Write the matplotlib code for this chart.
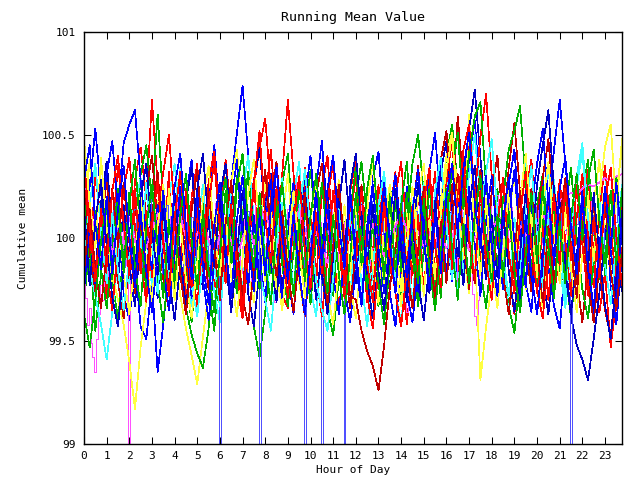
import numpy as np
import matplotlib
matplotlib.use("Agg")
import matplotlib.pyplot as plt

# time grids (hours): most series every 15 min, two series every 5 min
hours = np.arange(0, 24, 0.25)
hours_5min = np.arange(0, 24, 1 / 12)

s01_red = [100.22, 99.85, 100.31, 100.08, 99.71, 100.02, 100.35, 100.11, 99.83, 100.28, 100.44, 100.19,
           100.67, 100.26, 99.90, 100.32, 99.81, 100.13, 99.69, 100.20, 100.36, 99.88, 100.25, 99.74,
           100.04, 100.38, 100.12, 99.77, 99.61, 100.01, 100.29, 99.84, 100.18, 100.43, 100.07, 99.72,
           99.66, 100.16, 99.85, 100.34, 100.09, 99.78, 100.24, 100.40, 99.97, 99.64, 99.92, 100.23,
           100.37, 100.05, 99.69, 99.93, 100.26, 99.80, 100.12, 100.32, 99.86, 99.58, 99.87, 100.21,
           99.98, 100.29, 99.77, 100.06, 100.35, 100.10, 99.83, 100.24, 100.48, 100.21, 99.89, 100.16,
           99.75, 100.07, 100.27, 99.84, 99.63, 99.91, 100.22, 100.38, 100.04, 99.81, 100.18, 99.73,
           99.92, 100.25, 99.96, 99.71, 100.14, 100.33, 99.90, 99.64, 99.83, 99.47, 99.70, 99.95]
s02_green = [99.68, 99.98, 99.55, 99.82, 100.14, 99.79, 99.61, 99.95, 100.22, 99.88, 100.31, 100.45,
             100.18, 100.60, 100.17, 99.93, 99.73, 100.19, 99.82, 99.59, 99.90, 100.17, 99.76, 99.55,
             99.89, 100.23, 99.94, 100.30, 100.05, 99.73, 99.57, 99.42, 99.64, 99.93, 100.12, 100.27,
             100.41, 100.03, 99.82, 100.10, 100.33, 100.06, 99.81, 99.65, 99.53, 99.80, 100.08, 99.86,
             100.20, 100.37, 100.09, 99.87, 99.67, 99.94, 100.26, 100.04, 99.72, 100.08, 100.36, 100.50,
             100.22, 99.97, 99.75, 100.17, 100.40, 100.55, 100.25, 99.99, 99.78, 100.16, 99.85, 99.66,
             99.93, 100.24, 99.87, 99.67, 99.54, 99.81, 100.11, 99.84, 100.16, 100.31, 99.98, 99.73,
             100.10, 99.83, 99.61, 99.89, 100.22, 100.38, 100.04, 99.80, 100.23, 99.97, 99.70, 100.05]
s03_blue = [99.90, 100.25, 100.53, 100.21, 100.32, 99.85, 100.10, 99.73, 99.60, 99.88, 99.57, 99.51,
            99.79, 99.35, 99.58, 99.86, 100.17, 99.82, 100.20, 100.38, 100.02, 99.78, 100.21, 100.45,
            100.13, 99.87, 100.27, 100.51, 100.74, 100.40, 100.09, 99.91, 99.69, 100.06, 100.34, 100.04,
            99.82, 99.63, 99.95, 100.23, 99.88, 100.25, 100.47, 100.10, 99.81, 100.16, 99.75, 99.59,
            99.85, 100.18, 99.83, 100.29, 100.42, 100.05, 99.73, 99.57, 99.89, 100.25, 99.97, 99.71,
            100.09, 100.33, 100.51, 100.13, 99.82, 100.17, 99.76, 100.04, 100.39, 100.57, 100.21, 99.95,
            99.74, 100.12, 99.84, 100.26, 100.43, 100.06, 99.78, 99.64, 100.00, 100.28, 99.86, 99.67,
            99.56, 99.88, 100.14, 99.80, 100.24, 99.92, 99.63, 99.95, 100.20, 99.77, 99.58, 99.92]
s04_magenta = [99.80, 99.71, 99.58, 99.66, 99.49, 99.42, 99.35, 99.51, 99.63, 99.77, 99.70, 99.86,
               99.92, 99.81, 99.74, 99.88, 100.01, 99.93, 99.84, 99.97, 100.08, 99.95, 99.87, 99.96,
               98.00, 99.90, 100.02, 100.14, 100.05, 99.93, 100.09, 99.98, 100.11, 100.20, 100.07, 99.96,
               100.04, 99.91, 99.83, 99.97, 100.10, 100.02, 99.88, 99.79, 99.93, 100.06, 100.15, 100.03,
               99.94, 100.08, 100.21, 100.12, 100.00, 99.89, 99.98, 100.11, 100.04, 99.92, 99.81, 99.95,
               100.07, 100.19, 100.09, 99.97, 99.86, 99.74, 99.88, 100.01, 99.93, 100.06, 100.17, 100.05,
               99.95, 100.08, 99.99, 99.87, 100.00, 100.13, 100.24, 100.11, 99.98, 100.07, 99.94, 99.83,
               99.96, 100.10, 100.02, 99.90, 99.79, 99.92, 100.04, 100.16, 100.07, 99.95, 100.09, 100.18,
               100.06, 99.94, 100.05, 99.92, 99.81, 99.69, 99.84, 99.97, 100.09, 99.99, 99.88, 100.01,
               100.14, 100.03, 99.91, 100.02, 100.15, 100.27, 100.14, 100.02, 99.90, 100.01, 99.89, 99.78,
               99.92, 100.05, 99.96, 100.08, 100.19, 100.08, 99.95, 99.84, 99.97, 100.09, 99.98, 100.10,
               100.22, 100.10, 99.99, 99.86, 99.97, 100.08, 99.96, 99.85, 99.73, 99.88, 100.00, 100.12,
               100.03, 99.91, 100.04, 100.16, 100.07, 99.95, 100.06, 99.93, 99.82, 99.95, 100.08, 99.97,
               99.86, 99.99, 100.11, 100.23, 100.12, 100.00, 99.89, 100.02, 99.91, 99.80, 99.94, 100.06,
               99.95, 99.84, 99.72, 99.64, 99.77, 99.90, 100.02, 99.93, 100.05, 100.16, 100.04, 99.93,
               100.05, 99.94, 99.83, 99.97, 100.09, 100.20, 100.08, 99.96, 100.07, 99.95, 99.84, 99.98,
               100.10, 100.01, 99.89, 100.02, 99.90, 99.78, 99.91, 100.04, 100.15, 100.05, 99.93, 100.06,
               99.96, 99.84, 99.73, 99.62, 99.58, 99.70, 99.83, 99.96, 100.08, 99.97, 100.09, 100.19,
               100.08, 99.97, 100.10, 100.21, 100.10, 99.99, 99.88, 100.01, 99.92, 100.04, 100.15, 100.05,
               99.94, 100.06, 99.96, 99.85, 99.98, 100.10, 100.21, 100.11, 100.00, 100.09, 99.98, 100.07,
               100.16, 100.07, 99.97, 100.06, 100.14, 100.05, 99.96, 100.04, 100.12, 100.03, 99.95, 100.04,
               100.12, 100.03, 99.94, 100.02, 100.10, 100.01, 99.93, 100.01, 100.09, 100.00, 99.92, 100.02,
               100.11, 100.19, 100.10, 100.01, 100.09, 100.18, 100.08, 99.99, 100.07, 100.16, 100.07, 99.98,
               100.06, 100.14, 100.05, 99.97, 100.04, 100.12, 100.03, 99.95, 100.02, 100.10, 100.01, 99.93]
s05_cyan = [100.13, 99.85, 99.72, 99.58, 99.41, 99.64, 99.90, 100.12, 99.78, 100.16, 100.29, 99.99,
            99.77, 100.13, 99.82, 100.20, 100.36, 100.08, 99.80, 99.67, 100.05, 100.26, 99.92, 99.74,
            99.59, 99.98, 100.19, 99.86, 100.22, 100.40, 100.09, 99.83, 99.70, 99.55, 99.86, 100.17,
            99.84, 100.21, 100.37, 99.95, 99.75, 99.62, 99.96, 100.18, 99.83, 100.25, 99.96, 99.71,
            100.08, 99.78, 99.57, 99.85, 100.16, 100.32, 100.02, 99.77, 100.20, 99.92, 99.68, 100.05,
            100.27, 99.94, 99.69, 100.07, 100.28, 100.00, 99.73, 100.09, 100.31, 100.50, 100.18, 99.96,
            99.76, 100.13, 99.85, 99.64, 99.89, 100.21, 100.36, 100.04, 99.78, 100.12, 100.34, 100.05,
            99.86, 99.66, 99.98, 100.25, 100.42, 100.07, 99.82, 100.14, 100.35, 99.96, 99.78, 100.16]
s06_yellow = [100.07, 100.38, 100.10, 99.86, 100.20, 99.82, 99.70, 99.58, 99.40, 99.17, 99.47, 99.69,
              99.98, 100.18, 99.85, 100.24, 99.93, 99.72, 99.56, 99.43, 99.29, 99.52, 99.74, 100.02,
              100.22, 99.89, 100.27, 100.43, 100.10, 99.82, 99.69, 100.06, 100.29, 99.96, 99.75, 100.09,
              100.31, 99.98, 99.78, 99.63, 99.90, 100.22, 99.95, 99.71, 100.08, 100.28, 99.95, 99.76,
              99.61, 99.94, 100.20, 99.87, 99.68, 100.06, 100.26, 99.99, 99.74, 100.12, 99.83, 100.21,
              100.36, 99.99, 99.80, 100.18, 100.40, 100.51, 100.23, 100.00, 100.60, 99.95, 99.31, 99.57,
              99.79, 100.12, 99.78, 100.11, 100.31, 99.98, 99.75, 100.13, 99.86, 99.66, 99.99, 100.25,
              100.07, 99.77, 100.10, 100.30, 100.02, 99.79, 100.17, 100.38, 100.05, 99.85, 100.23, 100.43]
s07_darkblue = [99.78, 100.11, 99.83, 100.17, 100.37, 100.04, 99.79, 100.16, 99.87, 99.67, 99.99, 100.26,
                99.97, 99.71, 100.09, 99.81, 99.60, 99.88, 100.18, 100.34, 100.01, 99.75, 100.12, 99.85,
                100.20, 100.36, 100.03, 99.77, 100.10, 99.73, 99.57, 99.85, 100.16, 100.31, 99.99, 99.74,
                100.08, 99.72, 100.10, 100.30, 99.97, 99.70, 99.94, 100.24, 99.86, 100.16, 100.38, 100.04,
                99.78, 100.12, 99.80, 99.61, 99.89, 100.19, 99.85, 100.23, 99.96, 99.69, 100.00, 100.27,
                99.99, 99.73, 100.11, 100.32, 100.47, 100.13, 99.91, 100.30, 100.53, 100.72, 100.39, 100.10,
                99.93, 99.72, 100.07, 100.27, 99.95, 99.70, 100.06, 99.79, 100.11, 99.82, 99.63, 99.90,
                100.20, 99.89, 99.62, 99.48, 99.41, 99.31, 99.51, 99.73, 100.01, 100.22, 99.93, 99.74]
s08_darkred = [100.25, 99.93, 99.74, 100.06, 100.27, 99.99, 99.79, 99.61, 99.88, 100.19, 99.86, 100.23,
               100.40, 100.07, 99.80, 99.65, 99.92, 100.21, 99.84, 100.13, 100.33, 100.00, 99.75, 100.09,
               99.77, 100.07, 100.28, 99.96, 99.71, 99.58, 99.86, 100.17, 99.84, 100.20, 100.37, 100.03,
               99.81, 100.11, 99.82, 99.62, 99.90, 100.21, 100.36, 100.02, 99.78, 100.14, 99.86, 99.66,
               99.95, 100.26, 99.97, 99.72, 100.09, 99.79, 100.10, 100.31, 100.01, 99.75, 100.13, 100.35,
               100.02, 99.77, 100.15, 100.38, 100.52, 100.17, 100.59, 100.26, 99.98, 99.78, 100.16, 99.86,
               100.23, 100.40, 100.05, 100.34, 100.56, 100.22, 99.95, 99.74, 100.12, 100.29, 100.48, 100.14,
               99.96, 99.71, 100.08, 99.80, 99.59, 99.87, 100.18, 99.85, 99.65, 99.52, 99.80, 100.07]
s09_lightblue = [99.92, 100.01, 100.09, 99.98, 99.89, 100.00, 100.12, 100.04, 99.95, 100.06, 100.15, 100.05,
                 99.96, 99.87, 99.97, 100.08, 100.17, 100.07, 99.98, 100.06, 99.94, 99.86, 99.97, 100.09,
                 100.01, 99.92, 100.03, 100.14, 100.05, 99.96, 99.85, 99.95, 100.07, 99.98, 100.10, 100.19,
                 100.09, 99.99, 99.90, 100.01, 99.92, 99.83, 99.95, 100.06, 100.16, 100.07, 99.97, 100.05,
                 99.95, 100.04, 100.13, 100.03, 99.93, 99.84, 99.96, 100.08, 99.99, 100.10, 100.01, 99.91,
                 100.02, 100.12, 100.03, 99.94, 100.05, 99.96, 99.87, 99.98, 100.09, 100.00, 99.90, 100.01,
                 98.00, 100.03, 99.94, 100.05, 100.15, 100.06, 99.97, 100.08, 99.98, 99.88, 99.99, 100.10,
                 100.01, 99.92, 100.02, 100.13, 100.04, 99.95, 100.06, 99.96, 100.07, 98.00, 99.98, 100.09,
                 100.18, 100.08, 99.99, 100.09, 99.99, 99.90, 100.01, 100.11, 100.02, 99.93, 100.04, 99.95,
                 99.86, 99.97, 100.07, 99.98, 100.08, 100.17, 100.07, 99.98, 100.08, 98.00, 100.06, 99.96,
                 100.07, 99.97, 100.08, 99.99, 100.09, 100.00, 98.00, 100.02, 99.93, 100.04, 100.14, 100.05,
                 99.95, 100.06, 99.97, 100.08, 99.99, 99.90, 98.00, 100.01, 100.11, 100.02, 99.92, 100.03,
                 100.13, 100.04, 99.94, 100.05, 99.96, 99.87, 99.98, 100.08, 100.18, 100.09, 99.99, 100.10,
                 100.00, 99.91, 100.02, 100.12, 100.03, 99.93, 100.04, 99.95, 99.85, 99.96, 100.07, 99.98,
                 100.09, 100.19, 100.09, 100.00, 99.90, 100.01, 99.92, 100.03, 100.13, 100.04, 99.95, 100.06,
                 99.97, 100.07, 100.16, 100.06, 99.97, 100.07, 99.98, 99.89, 100.00, 100.10, 100.01, 100.11,
                 100.02, 99.93, 100.03, 100.13, 100.04, 100.14, 100.05, 99.96, 100.06, 99.97, 100.07, 100.17,
                 100.08, 99.98, 100.08, 100.18, 100.09, 100.00, 100.10, 100.01, 99.92, 100.02, 100.12, 100.03,
                 99.94, 100.04, 100.14, 100.05, 99.96, 100.06, 99.97, 100.07, 100.17, 100.08, 99.99, 100.09,
                 100.00, 99.91, 100.01, 100.11, 100.02, 99.93, 100.03, 100.13, 100.04, 99.95, 100.05, 100.15,
                 100.06, 99.97, 100.07, 99.98, 100.08, 100.18, 100.09, 100.00, 100.10, 100.01, 99.92, 100.02,
                 100.12, 100.03, 99.94, 100.04, 100.14, 100.05, 98.00, 100.06, 99.97, 100.07, 100.17, 100.08,
                 99.99, 100.09, 100.00, 99.91, 100.01, 100.11, 100.02, 99.93, 100.03, 100.13, 100.04, 99.95,
                 100.05, 100.15, 100.06, 99.97, 100.07, 99.98, 100.08, 100.18, 100.09, 100.00, 100.10, 100.01]
s10_red = [100.34, 100.00, 99.79, 100.12, 99.84, 99.65, 99.97, 100.23, 100.39, 100.05, 99.83, 100.13,
           99.81, 100.11, 100.32, 100.50, 100.13, 99.89, 100.24, 99.86, 99.67, 100.00, 100.27, 100.42,
           100.08, 99.80, 100.15, 99.82, 99.63, 99.91, 100.25, 100.44, 100.58, 100.23, 99.96, 100.31,
           100.67, 100.31, 100.02, 99.79, 100.14, 99.81, 99.62, 99.90, 100.23, 99.96, 99.71, 100.09,
           100.30, 99.98, 99.72, 99.56, 99.85, 100.17, 99.83, 100.21, 100.37, 100.03, 99.82, 100.11,
           99.74, 100.10, 100.32, 100.01, 100.29, 100.47, 100.10, 100.43, 100.55, 100.21, 100.49, 100.70,
           100.30, 100.02, 99.79, 100.14, 99.80, 100.12, 100.33, 99.99, 99.73, 100.07, 99.70, 100.06,
           100.28, 99.98, 99.72, 100.10, 100.31, 100.01, 99.76, 100.13, 100.35, 100.04, 99.79, 100.22]
s11_green = [100.20, 99.83, 100.13, 99.85, 99.66, 99.94, 100.24, 99.87, 100.17, 100.38, 100.01, 99.75,
             100.10, 99.78, 99.59, 99.87, 100.19, 99.89, 99.66, 99.53, 99.44, 99.37, 99.56, 99.90,
             100.13, 100.29, 99.97, 99.73, 100.11, 100.32, 100.00, 99.75, 100.12, 99.83, 100.21, 99.87,
             99.67, 99.94, 100.25, 99.93, 99.68, 100.00, 100.27, 99.98, 99.72, 100.10, 99.81, 100.13,
             100.34, 100.01, 99.75, 100.09, 99.78, 99.58, 99.87, 100.18, 99.84, 100.22, 99.92, 99.67,
             99.94, 100.24, 99.96, 99.71, 100.10, 100.33, 100.51, 100.14, 100.41, 100.59, 100.66, 100.25,
             100.07, 99.86, 100.19, 100.43, 100.52, 100.64, 100.27, 100.00, 99.78, 100.13, 99.85, 100.15,
             99.84, 100.14, 100.34, 100.00, 99.75, 99.61, 99.88, 100.17, 99.82, 100.11, 100.30, 99.99]
s12_blue = [99.74, 100.07, 99.78, 100.10, 100.31, 100.47, 100.14, 100.46, 100.55, 100.62, 100.28, 100.00,
            99.85, 100.16, 99.86, 99.65, 99.92, 100.25, 99.97, 99.71, 100.09, 99.80, 99.60, 99.88,
            100.19, 99.84, 100.17, 100.38, 100.02, 99.76, 100.11, 99.79, 100.08, 100.28, 99.94, 99.70,
            100.07, 100.27, 99.88, 100.19, 100.40, 100.06, 99.80, 100.15, 99.82, 99.63, 99.91, 100.23,
            99.94, 99.68, 100.06, 100.26, 99.97, 99.73, 100.10, 100.31, 99.99, 99.74, 99.59, 99.86,
            100.12, 99.83, 100.16, 100.37, 100.03, 99.79, 100.17, 99.87, 100.25, 99.97, 99.72, 100.10,
            100.30, 99.99, 99.75, 100.12, 100.33, 100.00, 99.76, 100.14, 100.36, 100.53, 100.17, 100.43,
            100.67, 100.36, 100.06, 99.83, 100.18, 99.85, 99.67, 99.95, 100.25, 99.94, 99.70, 100.08]
s13_magenta = [100.30, 100.15, 100.02, 99.90, 100.05, 99.92, 100.08, 99.97, 100.10, 99.98, 100.06, 99.95,
               100.04, 100.12, 100.01, 99.92, 100.03, 100.11, 100.00, 99.93, 100.02, 100.09, 99.99, 99.91,
               100.01, 100.08, 99.98, 99.90, 100.00, 100.07, 99.97, 100.05, 100.13, 100.03, 99.95, 100.04,
               99.96, 100.06, 100.14, 100.04, 99.96, 100.03, 99.95, 99.88, 99.97, 100.05, 99.98, 100.07,
               100.15, 100.06, 99.99, 100.07, 99.98, 99.91, 99.99, 100.06, 100.12, 100.04, 99.97, 100.03,
               99.96, 100.02, 100.09, 100.02, 99.95, 100.01, 100.07, 100.00, 99.94, 100.00, 100.05, 99.99,
               100.04, 100.09, 100.03, 99.98, 100.02, 100.06, 100.01, 100.03, 100.07, 100.10, 100.13, 100.15,
               100.18, 100.20, 100.22, 100.21, 100.24, 100.26, 100.25, 100.27, 100.29, 100.28, 100.30, 100.31]
s14_cyan = [99.92, 100.16, 100.36, 100.03, 99.78, 100.12, 99.84, 99.65, 99.91, 100.22, 99.95, 100.27,
            99.98, 99.73, 100.10, 99.81, 100.13, 100.34, 100.01, 99.77, 99.62, 99.89, 100.20, 99.86,
            99.67, 99.95, 100.26, 99.98, 99.74, 100.11, 99.83, 100.21, 99.93, 99.69, 99.97, 100.29,
            100.00, 99.75, 100.12, 100.33, 100.04, 99.79, 99.65, 99.55, 99.81, 100.14, 99.81, 100.13,
            99.85, 100.22, 99.93, 99.70, 100.08, 100.28, 99.96, 99.73, 99.59, 99.87, 100.18, 99.84,
            100.20, 99.86, 100.23, 100.39, 100.06, 99.80, 100.14, 99.83, 100.11, 99.80, 100.12, 100.32,
            100.48, 100.12, 99.91, 99.72, 100.10, 99.82, 100.14, 100.35, 100.01, 99.76, 100.09, 100.28,
            99.97, 99.71, 100.08, 100.30, 100.46, 100.10, 99.89, 100.19, 99.87, 99.68, 99.95, 100.26]
s15_yellow = [100.48, 100.17, 99.95, 100.39, 100.05, 99.79, 100.13, 99.82, 99.63, 99.90, 100.21, 99.88,
              99.69, 100.06, 100.26, 99.94, 99.70, 100.08, 99.80, 99.61, 99.88, 100.19, 100.35, 100.02,
              99.82, 100.11, 99.81, 99.62, 99.90, 100.22, 100.38, 100.05, 99.79, 100.13, 99.83, 99.65,
              99.92, 100.23, 99.95, 99.71, 100.09, 100.29, 99.97, 99.73, 99.58, 99.85, 100.16, 99.82,
              100.19, 99.85, 100.17, 100.37, 100.03, 99.78, 100.15, 99.86, 99.67, 99.95, 100.25, 99.96,
              99.72, 100.09, 99.80, 100.12, 100.33, 100.50, 100.14, 99.93, 99.73, 100.11, 99.82, 100.19,
              99.85, 99.66, 99.93, 100.23, 99.87, 100.19, 100.41, 100.07, 99.81, 100.16, 100.37, 100.03,
              99.78, 100.15, 99.85, 99.64, 99.92, 100.22, 99.89, 100.21, 100.44, 100.55, 100.15, 100.48]
s16_darkblue = [100.15, 99.77, 100.08, 100.28, 99.96, 99.71, 99.57, 99.85, 100.17, 99.83, 100.20, 100.36,
                100.03, 99.82, 100.14, 99.85, 100.22, 99.92, 99.66, 99.93, 100.24, 100.41, 100.07, 99.86,
                100.21, 99.89, 99.64, 99.92, 100.23, 99.95, 100.27, 100.44, 100.10, 99.88, 99.69, 100.07,
                99.78, 100.10, 100.30, 99.99, 99.74, 100.12, 99.83, 99.63, 99.91, 100.22, 99.93, 100.25,
                100.41, 100.08, 99.87, 100.16, 99.84, 99.65, 99.93, 100.24, 99.95, 99.71, 100.08, 99.79,
                99.60, 99.88, 100.18, 99.89, 100.20, 100.36, 100.02, 99.77, 100.14, 100.35, 100.00, 99.80,
                100.11, 99.81, 100.13, 99.84, 99.64, 99.92, 100.23, 99.94, 100.26, 100.45, 100.62, 100.23,
                100.04, 99.83, 99.63, 99.91, 100.21, 99.85, 100.22, 99.92, 99.67, 99.51, 99.81, 100.13]
s17_darkred = [99.83, 100.14, 99.85, 99.66, 99.93, 100.24, 99.96, 100.27, 99.98, 99.73, 100.10, 99.81,
               100.11, 100.32, 99.99, 99.74, 100.11, 99.82, 99.63, 99.90, 100.20, 99.86, 100.23, 99.95,
               99.70, 100.07, 100.28, 99.96, 99.72, 100.09, 99.80, 100.12, 100.33, 100.00, 99.81, 100.13,
               99.84, 99.64, 99.92, 100.22, 99.86, 100.21, 99.92, 99.68, 99.96, 100.26, 99.97, 99.72,
               99.70, 99.55, 99.45, 99.38, 99.26, 99.48, 99.76, 99.95, 100.14, 99.85, 99.66, 99.94,
               100.25, 99.95, 99.70, 100.08, 99.78, 100.10, 100.31, 100.00, 99.75, 100.12, 100.33, 99.99,
               99.79, 100.11, 99.82, 99.63, 99.91, 100.23, 99.87, 100.24, 99.94, 99.69, 100.06, 99.77,
               100.09, 100.29, 99.96, 99.71, 100.08, 99.79, 99.59, 99.87, 100.18, 99.84, 99.65, 99.93]
s18_red = [100.38, 100.06, 99.79, 100.14, 99.86, 100.23, 100.40, 100.07, 99.82, 100.24, 99.89, 99.69,
           100.06, 100.28, 99.97, 99.72, 100.10, 100.32, 100.01, 99.76, 100.13, 99.84, 100.16, 100.37,
           100.04, 99.78, 100.16, 99.87, 99.67, 100.00, 100.26, 100.52, 100.09, 99.88, 100.25, 99.96,
           99.71, 100.09, 100.30, 99.95, 99.75, 100.12, 99.83, 100.20, 100.36, 99.98, 99.78, 100.20,
           99.86, 100.23, 99.88, 99.69, 100.07, 100.27, 99.92, 99.73, 99.57, 99.85, 100.16, 99.82,
           100.18, 100.34, 99.96, 99.76, 100.19, 99.85, 100.22, 100.39, 100.00, 99.80, 100.23, 99.89,
           99.70, 100.08, 100.29, 99.93, 99.73, 100.11, 100.32, 99.95, 99.75, 99.61, 99.89, 100.21,
           99.87, 100.24, 99.89, 100.26, 99.97, 99.72, 100.10, 99.81, 100.18, 100.34, 100.01, 99.77]
s19_green = [99.63, 99.47, 99.70, 99.98, 100.19, 99.80, 100.17, 99.83, 100.20, 99.86, 99.67, 100.05,
             100.26, 99.96, 99.71, 100.09, 99.79, 100.11, 100.31, 99.99, 99.75, 100.13, 99.84, 99.64,
             99.92, 100.23, 99.88, 100.25, 100.41, 100.07, 99.86, 100.22, 99.87, 99.68, 100.06, 100.27,
             99.97, 99.72, 100.09, 99.79, 100.11, 100.31, 99.98, 99.73, 100.11, 99.82, 99.63, 99.91,
             100.22, 99.87, 100.24, 100.40, 100.06, 99.80, 100.20, 99.84, 100.16, 100.37, 99.98, 99.78,
             100.19, 99.85, 99.65, 99.93, 100.24, 99.95, 99.70, 100.07, 99.78, 100.10, 100.30, 99.98,
             99.79, 100.11, 99.81, 100.13, 99.84, 99.64, 99.92, 100.22, 99.88, 100.25, 99.96, 99.71,
             100.08, 99.78, 100.10, 100.31, 99.99, 100.28, 100.43, 100.09, 99.88, 100.23, 99.87, 100.24]
s20_blue = [100.28, 100.45, 100.07, 99.85, 100.20, 99.83, 100.14, 100.35, 100.01, 99.76, 100.13, 99.84,
            99.64, 99.92, 100.23, 99.88, 100.25, 100.41, 100.06, 99.80, 100.22, 99.87, 99.68, 100.06,
            100.27, 99.96, 99.71, 100.09, 100.30, 99.99, 99.74, 100.11, 99.82, 100.14, 100.35, 100.01,
            99.80, 100.12, 99.83, 99.63, 99.91, 100.22, 99.87, 100.24, 100.40, 100.06, 99.85, 100.22,
            99.87, 99.67, 100.00, 100.26, 99.96, 100.27, 99.98, 99.73, 100.10, 99.81, 100.13, 100.33,
            100.00, 99.75, 100.12, 99.83, 100.20, 100.36, 100.03, 100.34, 100.51, 100.17, 99.95, 100.30,
            99.97, 99.72, 100.09, 100.29, 99.98, 99.73, 100.11, 99.82, 99.63, 99.91, 100.22, 99.87,
            100.24, 100.39, 100.05, 99.84, 100.21, 99.85, 99.66, 99.94, 100.25, 99.95, 100.27, 99.97]

series = [s01_red, s02_green, s03_blue, s04_magenta, s05_cyan, s06_yellow, s07_darkblue,
          s08_darkred, s09_lightblue, s10_red, s11_green, s12_blue, s13_magenta, s14_cyan,
          s15_yellow, s16_darkblue, s17_darkred, s18_red, s19_green, s20_blue]
colors = ['#ff0000', '#00b000', '#0000ff', '#ff50ff', '#40ffff', '#ffff40', '#0000c0',
          '#c00000', '#5050ff', '#ff0000', '#00b000', '#0000ff', '#ff50ff', '#40ffff',
          '#ffff40', '#0000c0', '#c00000', '#ff0000', '#00b000', '#0000ff']

xticks = list(range(0, 24))
yticks = [99, 99.5, 100, 100.5, 101]
ytick_labels = ['99', '99.5', '100', '100.5', '101']

plt.rcParams['font.family'] = ['DejaVu Sans Mono']
plt.rcParams['font.size'] = 8

fig = plt.figure(figsize=(6.4, 4.8), dpi=100)
ax = fig.add_axes([84 / 640, 36 / 480, 538 / 640, 412 / 480])

for vals, c in zip(series, colors):
    if len(vals) == len(hours_5min):
        ax.plot(hours_5min, vals, color=c, linewidth=0.5, antialiased=False,
                drawstyle='steps-mid')
    else:
        ax.plot(hours, vals, color=c, linewidth=0.5, antialiased=False)

ax.set_xlim(0, 23.75)
ax.set_ylim(99, 101)
ax.set_xticks(xticks)
ax.set_yticks(yticks)
ax.set_yticklabels(ytick_labels)
ax.tick_params(axis='both', direction='in', length=5, width=0.75, top=True, right=True)
ax.tick_params(axis='x', pad=5)
ax.tick_params(axis='y', pad=6)
for sp in ax.spines.values():
    sp.set_linewidth(1.0)

ax.set_title('Running Mean Value', pad=8)
ax.set_xlabel('Hour of Day', labelpad=3)
ax.set_ylabel('Cumulative mean', labelpad=10)

fig.savefig('out.png', dpi=100)
